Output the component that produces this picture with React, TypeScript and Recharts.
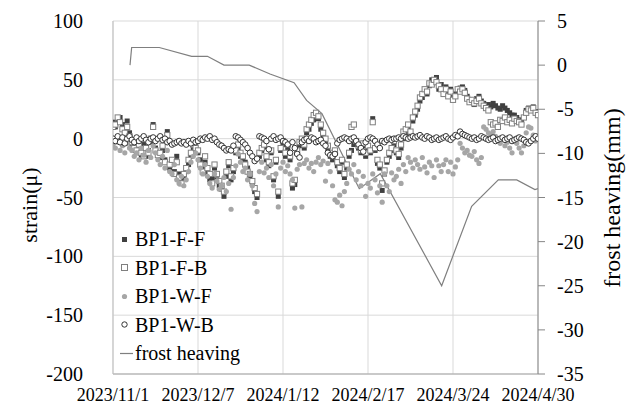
import { ComposedChart, Scatter, Line, XAxis, YAxis, CartesianGrid } from 'recharts';

const dateTicks = [0, 36, 72, 108, 144, 180];
const dateLabels = ['2023/11/1', '2023/12/7', '2024/1/12', '2024/2/17', '2024/3/24', '2024/4/30'];
const strainTicks = [-200, -150, -100, -50, 0, 50, 100];
const frostTicks = [-35, -30, -25, -20, -15, -10, -5, 0, 5];

// daily strain readings, day 0 = 2023/11/1
const bp1FF = [
  14, 10, 16, 18, 12, 8, 15, 5, -6, -10,
  -12, -8, -14, -5, -15, -10, -3, 12, -8, -12,
  -16, -10, -18, 6, -25, -20, -28, -15, -30, -35,
  -32, -28, -22, -15, -8, -10, -12, -18, -25, -20,
  -29, -35, -33, -25, -35, -40, -43, -49, -32, -23,
  -35, -28, -12, -9, -15, -18, -20, -25, -32, -38,
  -45, -50, -15, -10, -7, -18, -23, -12, -35, -20,
  -49, -10, -5, -15, -8, -18, -42, -39, -12, -6,
  -2, -8, 5, 8, 13, 16, 20, 17, 8, 2,
  -3, -9, -15, -18, -12, -23, -28, -20, -33, -25,
  -15, -10, -5, -4, -8, -12, -6, -15, -8, -12,
  17, -10, -21, -25, -44, -30, -20, -15, -10, -5,
  -12, -16, -8, 0, 5, 10, 3, 15, 20, 25,
  32, 35, 40, 38, 45, 50, 48, 52, 42, 46,
  40, 44, 38, 42, 35, 38, 40, 43, 44, 41,
  36, 33, 31, 29, 34, 36, 32, 30, 28, 29,
  27, 30, 28, 26, 25, 28, 26, 24, 22, 20,
  20, 18, 16, 15, 18, 24, 26, 25, 27, 23,
  22,
];

const bp1FB = [
  10, 12, 18, 14, 8, 5, 10, 2, -3, -8,
  -10, -5, -12, -15, -8, -12, 0, 10, -10, -14,
  -12, -6, -20, 3, -22, -18, -30, -20, -33, -38,
  -30, -25, -18, -12, -5, -8, -10, -22, -28, -15,
  -25, -30, -38, -22, -30, -36, -40, -45, -28, -20,
  -32, -25, -10, -5, -12, -15, -22, -28, -30, -36,
  -42, -47, -12, -8, -5, -15, -20, -10, -32, -18,
  -45, -8, -2, -12, -5, -15, -38, -35, -10, -3,
  0, -5, 8, 12, 16, 20, 22, 19, 12, 5,
  0, -6, -12, -15, -10, -20, -25, -18, -30, -22,
  -12, 10, 12, -2, -6, -10, -4, -12, -6, -10,
  14, -8, -18, -22, -38, -27, -18, -12, -8, -2,
  -10, -13, -5, 6, 8, 12, 6, 18, 23, 28,
  35, 38, 42, 40, 47, 46, 50, 48, 45, 42,
  38, 42, 36, 40, 33, 36, 42, 40, 42, 39,
  34, 31, 33, 30, 32, 34, 30, 28, 26, 24,
  14, 12, 13, 10, 16, 15, 18, 14, 16, 13,
  17, 15, 14, 12, 18, 22, 25, 24, 26, 22,
  20,
];

const bp1WF = [
  -5, -8, -3, -10, -6, -12, -4, -8, -10, -15,
  -12, -18, -8, -14, -20, -10, -16, -6, -12, -18,
  -22, -15, -25, -10, -28, -30, -22, -35, -38, -32,
  -40, -35, -28, -20, -15, -12, -18, -25, -30, -22,
  -32, -38, -42, -30, -36, -43, -40, -33, -45, -38,
  -60, -33, -23, -13, -20, -28, -25, -35, -30, -40,
  -55, -62, -28, -20, -29, -25, -33, -22, -40, -30,
  -58, -25, -20, -28, -23, -30, -35, -59, -26, -22,
  -58, -21, -18, -25, -21, -28, -20, -16, -22, -19,
  -36, -21, -28, -40, -52, -54, -48, -57, -45, -38,
  -26, -30, -22, -35, -28, -40, -32, -49, -38, -42,
  -30, -35, -46, -40, -54, -30, -40, -45, -29, -35,
  -32, -26, -38, -22, -28, -16, -20, -25, -18, -22,
  -26, -16, -24, -29, -20, -23, -33, -18, -23, -28,
  -22, -18, -28, -20, -30, -24, -18, -4, -8, -12,
  -10, -14, -15, -11, -18, -21, -16, 10, 8, 5,
  3, 6, 2, -1, -4, 0, -6, -3, -8, -12,
  -1, -4, -8, -12, -6, 5, 10, 9, 3, -2,
  0,
];

const bp1WB = [
  0, -2, 2, -3, 1, -4, 0, 2, -1, -3,
  1, -2, 0, 2, -1, -3, 0, 1, -2, 0,
  2, -1, 0, -3, -2, -5, -4, -3, -2, -4,
  -3, -5, -2, -4, -1, -3, -2, 0, -1, 1,
  0, 2, -1, 0, -3, -5, -6, -8, -10, -9,
  -10, -6, 2, 1, -1, -3, -5, -8, -12, -15,
  -19, -17, 2, 1, 0, -2, -9, 0, 2, -1,
  0, 1, -2, -3, -5, -12, -3, -8, -13, -16,
  -3, -1, 0, -2, 1, 0, -3, -2, -1, -4,
  -6, -12, -14, -15, -13, -4, -1, 0, 1, 0,
  -2, 0, 1, -2, -5, -8, -11, -3, 0, 1,
  0, -2, -5, -8, -2, -3, -1, 0, -1, 0,
  0, 1, 0, 2, 1, 0, 1, 2, 1, 2,
  3, 1, 0, 2, 1, -1, 0, 1, -1, 0,
  1, 2, 0, -1, 1, 3, 2, 6, 4, 3,
  2, 1, 0, 1, -1, 0, 2, 1, 0, -1,
  0, 1, -2, -1, 0, 1, -1, 0, 1, -2,
  -1, 0, 1, 0, -1, -3, -4, -2, 0, 2,
  0,
];

const frostDays = [7.2, 7.9, 19.6, 33.3, 40, 47, 57.7, 66.5, 76.7, 82, 88.5, 104.3, 113.2, 139.2, 151.9, 163.2, 171, 178.7, 180];
const frostHeaving = [0, 2, 2, 1, 1, 0, 0, -1, -2, -4, -5.5, -14, -12.3, -25, -16, -13, -13, -14.1, -14];

const toPoints = (vals: number[]) => vals.map((v, i) => ({ day: i, strain: v }));
const frostData = frostDays.map((d, i) => ({ day: d, frost: frostHeaving[i] }));

const FONT = '"Liberation Serif", "Times New Roman", serif';

const FilledSquare = (p: any) => <rect x={p.cx - 2.5} y={p.cy - 2.5} width={5} height={5} fill="#404040" />;
const OpenSquare = (p: any) => (
  <rect x={p.cx - 2.6} y={p.cy - 2.6} width={5.2} height={5.2} fill="#fff" stroke="#7f7f7f" strokeWidth={1} />
);
const GrayDot = (p: any) => <circle cx={p.cx} cy={p.cy} r={2.6} fill="#a6a6a6" />;
const OpenCircle = (p: any) => <circle cx={p.cx} cy={p.cy} r={2.8} fill="#fff" stroke="#333" strokeWidth={1} />;

const legendItems = [
  { name: 'BP1-F-F', icon: <rect x={2} y={3} width={5} height={5} fill="#404040" /> },
  { name: 'BP1-F-B', icon: <rect x={1.5} y={2.5} width={6} height={6} fill="#fff" stroke="#7f7f7f" /> },
  { name: 'BP1-W-F', icon: <circle cx={4.5} cy={5.5} r={2.6} fill="#a6a6a6" /> },
  { name: 'BP1-W-B', icon: <circle cx={4.5} cy={5.5} r={2.7} fill="#fff" stroke="#333" /> },
];

export default function App() {
  return (
    <div style={{ position: 'absolute', left: 0, top: 0, width: 629, height: 405, background: '#fff', fontFamily: FONT }}>
      <ComposedChart width={629} height={405} margin={{ top: 21, right: 41, bottom: 0, left: 33 }}>
        <CartesianGrid stroke="#d9d9d9" strokeWidth={1} yAxisId="left" horizontalValues={strainTicks} verticalValues={dateTicks} />
        <XAxis
          dataKey="day"
          type="number"
          domain={[0, 180]}
          ticks={dateTicks}
          tickFormatter={(v: number) => dateLabels[dateTicks.indexOf(v)] ?? ''}
          interval={0}
          height={31}
          tickSize={0}
          tickMargin={14}
          stroke="#a6a6a6"
          tick={{ fill: '#000', fontSize: 18, fontFamily: FONT }}
          allowDataOverflow
        />
        <YAxis
          yAxisId="left"
          dataKey="strain"
          type="number"
          domain={[-200, 100]}
          ticks={strainTicks}
          interval={0}
          width={80}
          tickSize={0}
          tickMargin={30}
          stroke="#bfbfbf"
          tick={{ fill: '#000', fontSize: 20, fontFamily: FONT }}
          allowDataOverflow
        />
        <YAxis
          yAxisId="right"
          orientation="right"
          type="number"
          domain={[-35, 5]}
          ticks={frostTicks}
          interval={0}
          width={50}
          tickSize={7}
          tickMargin={12}
          stroke="#868686"
          tick={{ fill: '#000', fontSize: 20, fontFamily: FONT }}
          allowDataOverflow
        />
        <Scatter yAxisId="left" name="BP1-F-F" data={toPoints(bp1FF)} dataKey="strain" shape={FilledSquare} isAnimationActive={false} />
        <Scatter yAxisId="left" name="BP1-F-B" data={toPoints(bp1FB)} dataKey="strain" shape={OpenSquare} isAnimationActive={false} />
        <Scatter yAxisId="left" name="BP1-W-F" data={toPoints(bp1WF)} dataKey="strain" shape={GrayDot} isAnimationActive={false} />
        <Scatter yAxisId="left" name="BP1-W-B" data={toPoints(bp1WB)} dataKey="strain" shape={OpenCircle} isAnimationActive={false} />
        <Line
          yAxisId="right"
          name="frost heaving"
          data={frostData}
          dataKey="frost"
          type="linear"
          stroke="#7f7f7f"
          strokeWidth={1.2}
          dot={false}
          activeDot={false}
          isAnimationActive={false}
        />
      </ComposedChart>

      <div
        style={{
          position: 'absolute',
          left: 30,
          top: 205,
          transform: 'translate(-50%, -50%) rotate(-90deg)',
          fontSize: 22,
          whiteSpace: 'nowrap',
          color: '#000',
        }}
      >
        strain(μ)
      </div>
      <div
        style={{
          position: 'absolute',
          left: 612,
          top: 198,
          transform: 'translate(-50%, -50%) rotate(-90deg)',
          fontSize: 24,
          whiteSpace: 'nowrap',
          color: '#000',
        }}
      >
        frost heaving(mm)
      </div>

      <div style={{ position: 'absolute', left: 120, top: 225, fontSize: 20, color: '#000', lineHeight: '28.5px' }}>
        {legendItems.map((it) => (
          <div key={it.name} style={{ display: 'flex', alignItems: 'center' }}>
            <svg width={12} height={11} style={{ marginRight: 3 }}>
              {it.icon}
            </svg>
            <span>{it.name}</span>
          </div>
        ))}
        <div style={{ display: 'flex', alignItems: 'center' }}>
          <svg width={14} height={11} style={{ marginRight: 1 }}>
            <line x1={0} y1={5.5} x2={13} y2={5.5} stroke="#7f7f7f" strokeWidth={1.2} />
          </svg>
          <span>frost heaving</span>
        </div>
      </div>
    </div>
  );
}
